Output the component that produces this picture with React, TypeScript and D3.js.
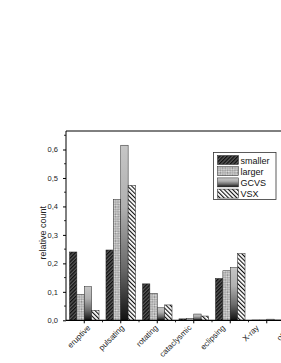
import * as d3 from 'd3';
import { useEffect, useRef } from 'react';

// categories and series
const categories = ['eruptive', 'pulsating', 'rotating', 'cataclysmic', 'eclipsing', 'X-ray', 'other'];
const seriesNames = ['smaller', 'larger', 'GCVS', 'VSX'];

// relative counts per category
const smaller = [0.24, 0.247, 0.128, 0.005, 0.147, 0.001, 0.002];
const larger = [0.091, 0.424, 0.095, 0.007, 0.174, 0.001, 0.002];
const gcvs = [0.118, 0.615, 0.044, 0.022, 0.185, 0.004, 0.002];
const vsx = [0.035, 0.474, 0.054, 0.015, 0.234, 0.001, 0.002];

const yTicks = [0, 0.1, 0.2, 0.3, 0.4, 0.5, 0.6];

export default function App() {
  const ref = useRef<SVGSVGElement>(null);

  useEffect(() => {
    const svg = d3.select(ref.current);
    svg.selectAll('*').remove();

    const W = 281;
    const M = { left: 66, top: 131, bottom: 320.3 };
    const step = 36.5;

    const series = [smaller, larger, gcvs, vsx];
    const fills = ['url(#pSmaller)', 'url(#pLarger)', 'url(#gGcvs)', 'url(#pVsx)'];

    // defs: hatch patterns + gradient
    const defs = svg.append('defs');

    const p1 = defs
      .append('pattern')
      .attr('id', 'pSmaller')
      .attr('patternUnits', 'userSpaceOnUse')
      .attr('width', 2.6)
      .attr('height', 2.6)
      .attr('patternTransform', 'rotate(45)');
    p1.append('rect').attr('width', 2.6).attr('height', 2.6).attr('fill', '#5a5a5a');
    p1.append('rect').attr('width', 1.3).attr('height', 2.6).attr('fill', '#111');

    const p2 = defs
      .append('pattern')
      .attr('id', 'pLarger')
      .attr('patternUnits', 'userSpaceOnUse')
      .attr('width', 2.4)
      .attr('height', 2.4)
      .attr('patternTransform', 'rotate(45)');
    p2.append('rect').attr('width', 2.4).attr('height', 2.4).attr('fill', '#e4e4e4');
    p2.append('rect').attr('width', 1.2).attr('height', 1.2).attr('fill', '#8c8c8c');
    p2.append('rect').attr('x', 1.2).attr('y', 1.2).attr('width', 1.2).attr('height', 1.2).attr('fill', '#8c8c8c');

    const g3 = defs
      .append('linearGradient')
      .attr('id', 'gGcvs')
      .attr('x1', 0)
      .attr('y1', 0)
      .attr('x2', 0)
      .attr('y2', 1);
    [
      [0, '#c6c6c6'],
      [0.35, '#b0b0b0'],
      [0.7, '#6a6a6a'],
      [1, '#111'],
    ].forEach(([o, c]) => g3.append('stop').attr('offset', o).attr('stop-color', c));

    const p4 = defs
      .append('pattern')
      .attr('id', 'pVsx')
      .attr('patternUnits', 'userSpaceOnUse')
      .attr('width', 3)
      .attr('height', 3)
      .attr('patternTransform', 'rotate(-45)');
    p4.append('rect').attr('width', 3).attr('height', 3).attr('fill', '#fff');
    p4.append('rect').attr('width', 1.1).attr('height', 3).attr('fill', '#111');

    // scales
    const x = d3
      .scaleBand()
      .domain(categories)
      .range([M.left, M.left + step * categories.length])
      .paddingInner(0.19)
      .paddingOuter(0.095);
    const x1 = d3.scaleBand().domain(seriesNames).range([0, x.bandwidth()]);
    const y = d3.scaleLinear().domain([0, 0.665]).range([M.bottom, M.top]);
    // rotated labels sit slightly tighter than the bar groups in the original
    const xLabel = d3.scalePoint().domain(categories).range([89, 291]);

    const fmt = d3.formatLocale({ decimal: ',', thousands: '.', grouping: [3], currency: ['', ''] }).format('.1f');
    const font = 'Liberation Sans, Arial, sans-serif';

    // bars
    categories.forEach((c, i) => {
      series.forEach((s, j) => {
        const v = s[i];
        svg
          .append('rect')
          .attr('x', x(c)! + x1(seriesNames[j])!)
          .attr('y', y(v))
          .attr('width', x1.bandwidth())
          .attr('height', y(0) - y(v))
          .attr('fill', fills[j])
          .attr('stroke', '#222')
          .attr('stroke-width', 0.5);
      });
    });

    // frame: left axis + top line
    svg
      .append('line')
      .attr('x1', M.left)
      .attr('x2', M.left)
      .attr('y1', M.top)
      .attr('y2', M.bottom)
      .attr('stroke', '#000')
      .attr('stroke-width', 1);
    svg
      .append('line')
      .attr('x1', M.left)
      .attr('x2', W)
      .attr('y1', M.top)
      .attr('y2', M.top)
      .attr('stroke', '#000')
      .attr('stroke-width', 1);

    // y axis
    const yAxis = d3.axisLeft(y).tickValues(yTicks).tickSize(3).tickPadding(5).tickFormat(fmt);
    const gy = svg.append('g').attr('transform', `translate(${M.left},0)`).call(yAxis);
    gy.select('.domain').remove();
    gy.selectAll('text').attr('font-family', font).attr('font-size', 7.5).attr('fill', '#222');
    const minorY = d3.range(0.05, 0.66, 0.1);
    svg
      .append('g')
      .selectAll('line')
      .data(minorY)
      .join('line')
      .attr('x1', M.left - 2)
      .attr('x2', M.left)
      .attr('y1', (d) => y(d))
      .attr('y2', (d) => y(d))
      .attr('stroke', '#000')
      .attr('stroke-width', 0.8);

    // x axis
    const xAxis = d3.axisBottom(x).tickSize(3).tickFormat(() => '');
    const gx = svg.append('g').attr('transform', `translate(0,${M.bottom})`).call(xAxis);
    gx.select('.domain').attr('d', `M${M.left},0H${W + 60}`).attr('stroke-width', 1.2);
    // minor ticks halfway between groups
    svg
      .append('g')
      .selectAll('line')
      .data(categories.slice(1))
      .join('line')
      .attr('x1', (d) => x(d)! - (step * 0.19) / 2)
      .attr('x2', (d) => x(d)! - (step * 0.19) / 2)
      .attr('y1', M.bottom)
      .attr('y2', M.bottom + 2)
      .attr('stroke', '#000')
      .attr('stroke-width', 0.8);

    // rotated category labels
    svg
      .append('g')
      .selectAll('text')
      .data(categories)
      .join('text')
      .attr('transform', (d) => `translate(${xLabel(d)},${M.bottom + 6}) rotate(-45)`)
      .attr('text-anchor', 'end')
      .attr('dy', '0.35em')
      .attr('font-family', font)
      .attr('font-size', 8)
      .attr('fill', '#222')
      .text((d) => d);

    // y label
    svg
      .append('text')
      .attr('transform', `translate(46,${(M.top + M.bottom) / 2 + 7}) rotate(-90)`)
      .attr('text-anchor', 'middle')
      .attr('font-family', font)
      .attr('font-size', 9)
      .attr('fill', '#222')
      .text('relative count');

    // legend
    const lg = svg.append('g');
    lg.append('rect')
      .attr('x', 213.5)
      .attr('y', 152.5)
      .attr('width', 62.5)
      .attr('height', 47)
      .attr('fill', '#fff')
      .attr('stroke', '#333')
      .attr('stroke-width', 0.8);
    seriesNames.forEach((n, j) => {
      const yy = 155.5 + j * 11.2;
      lg.append('rect')
        .attr('x', 217.5)
        .attr('y', yy)
        .attr('width', 21)
        .attr('height', 9)
        .attr('fill', fills[j])
        .attr('stroke', '#222')
        .attr('stroke-width', 0.5);
      lg.append('text')
        .attr('x', 240.5)
        .attr('y', yy + 8)
        .attr('font-family', font)
        .attr('font-size', 9)
        .attr('fill', '#111')
        .text(n);
    });
  }, []);

  return (
    <svg
      ref={ref}
      width={281}
      height={363}
      style={{ position: 'absolute', left: 0, top: 0, background: '#fff' }}
    />
  );
}
